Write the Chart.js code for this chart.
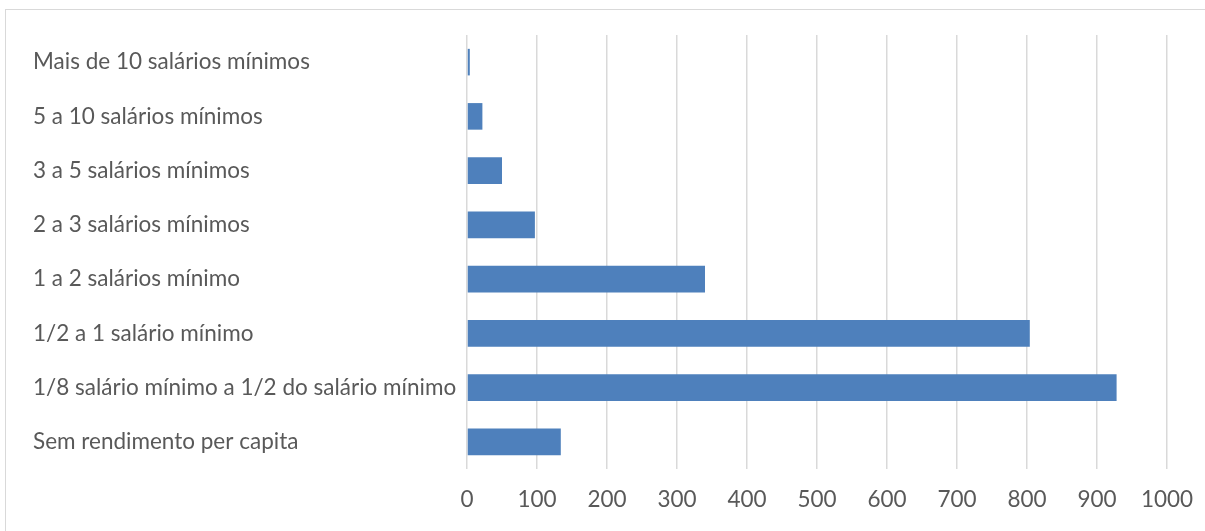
<!DOCTYPE html>
<html>
<head>
<meta charset="utf-8">
<script src="https://cdn.jsdelivr.net/npm/chart.js@4/dist/chart.umd.min.js"></script>
<style>
  html, body { margin: 0; padding: 0; background: #fff; }
  .wrap { position: relative; width: 1205px; height: 531px; overflow: hidden; }
  .frame { position: absolute; left: 5px; top: 9px; width: 1220px; height: 540px; border: 1px solid #d9d9d9; box-sizing: border-box; }
  canvas { position: absolute; left: 0; top: 0; }
</style>
</head>
<body>
<div class="wrap">
  <div class="frame"></div>
  <canvas id="myChart" width="1205" height="531"></canvas>
</div>
<script>
  // faixas de rendimento (de cima para baixo)
  const labels = [
    'Mais de 10 salários mínimos',
    '5 a 10 salários mínimos',
    '3 a 5 salários mínimos',
    '2 a 3 salários mínimos',
    '1 a 2 salários mínimo',
    '1/2 a 1 salário mínimo',
    '1/8 salário mínimo a 1/2 do salário mínimo',
    'Sem rendimento per capita'
  ];
  const values = [4, 22, 50, 97, 340, 804, 928, 134];
  const xTicks = [0, 100, 200, 300, 400, 500, 600, 700, 800, 900, 1000];

  const font = { family: 'Lato', size: 22.5 };

  const data = {
    labels: labels,
    datasets: [{
      data: values,
      backgroundColor: '#4e80bc',
      borderWidth: 0,
      categoryPercentage: 1,
      barPercentage: 0.49
    }]
  };

  const config = {
    type: 'bar',
    data: data,
    options: {
      indexAxis: 'y',
      responsive: false,
      animation: false,
      layout: { padding: { left: 33, right: 38, top: 35, bottom: 0 } },
      plugins: {
        legend: { display: false },
        tooltip: { enabled: false }
      },
      scales: {
        x: {
          min: 0,
          max: 1000,
          afterBuildTicks: function(scale) {
            scale.ticks = xTicks.map(v => ({ value: v }));
          },
          afterFit: function(scale) {
            scale.height = 62;
            scale.paddingLeft = 0;
            scale.paddingRight = 0;
          },
          grid: { color: '#d9d9d9', lineWidth: 1.5, drawTicks: false },
          border: { display: false },
          ticks: {
            color: '#595959', font: font, padding: 17, maxRotation: 0,
            callback: v => String(v)
          }
        },
        y: {
          afterFit: function(scale) { scale.width = 434; },
          grid: { display: false },
          border: { display: false },
          ticks: { color: '#595959', font: font, crossAlign: 'far', padding: 10 }
        }
      }
    }
  };

  const myChart = new Chart(document.getElementById('myChart'), config);
</script>
</body>
</html>
